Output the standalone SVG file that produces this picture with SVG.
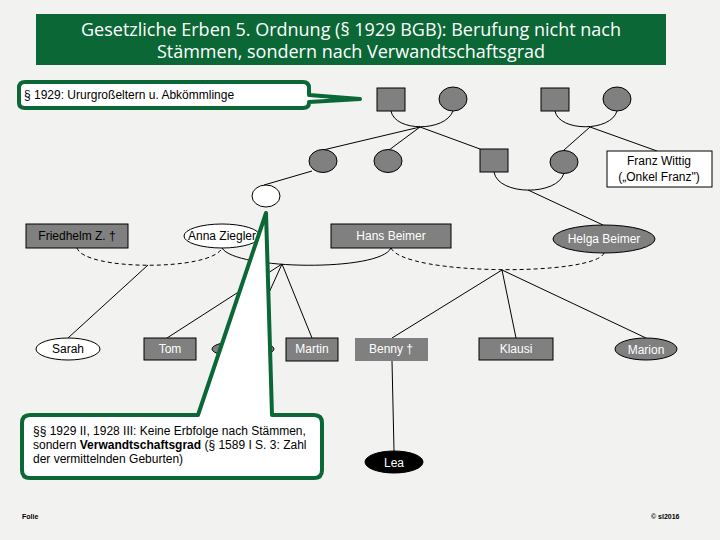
<svg xmlns="http://www.w3.org/2000/svg" width="720" height="540" viewBox="0 0 720 540">
<style>
  .bg{fill:#f2f2f0}
  .gr{fill:#808080;stroke:#000;stroke-width:1}
  .grn{fill:#808080}
  .wh{fill:#fff;stroke:#000;stroke-width:1}
  .blk{fill:#000;stroke:#000;stroke-width:1}
  .ln{fill:none;stroke:#000;stroke-width:1}
  .dash{fill:none;stroke:#000;stroke-width:1;stroke-dasharray:4,3}
  .callout{fill:#fff;stroke:#0b6836;stroke-width:4;stroke-linejoin:round}
  text{font-family:"Liberation Sans",Arial,sans-serif;font-size:12px}
  .lw{fill:#fff;text-anchor:middle}
  .lb{fill:#000;text-anchor:middle}
  .title{font-family:"Open Sans","Noto Sans",sans-serif;font-size:18px;fill:#fff;text-anchor:middle}
  .foot{font-size:7px;font-weight:bold;fill:#000}
</style>
<rect class="bg" x="0" y="0" width="720" height="540"/>

<g id="title">
  <rect x="36" y="14" width="630" height="51" fill="#0b6836"/>
  <text class="title" x="351" y="36">Gesetzliche Erben 5. Ordnung (§ 1929 BGB): Berufung nicht nach</text>
  <text class="title" x="351" y="58">Stämmen, sondern nach Verwandtschaftsgrad</text>
</g>

<g id="connectors">
  <path class="ln" d="M391,111 C395,132 445,132 453,111"/>
  <path class="ln" d="M420,127 L323,150 M420,127 L389,150 M420,127 L480,149"/>
  <path class="ln" d="M555,111 C559,132 611,132 617,111"/>
  <path class="ln" d="M590,127 L564,150 M590,127 L657,151"/>
  <path class="ln" d="M494,172 C498,196 558,196 564,173"/>
  <path class="ln" d="M528,190 L603,225"/>
  <path class="ln" d="M312,171 L264,185"/>
  <path class="dash" d="M77,248 C85,271 212,271 222,248"/>
  <path class="ln" d="M222,248 C235,270 380,272 391,248"/>
  <path class="dash" d="M391,248 C405,276 595,276 604,253"/>
  <path class="ln" d="M148,265 L68,338"/>
  <path class="ln" d="M282,264 L167,338 M282,264 L247,341 M282,264 L312,338"/>
  <path class="ln" d="M502,270 L392,338 M502,270 L516,338 M502,270 L646,338"/>
  <path class="ln" d="M392,361 L394,451"/>
</g>

<g id="gg1"><rect class="gr" x="377" y="88" width="28" height="23"/></g>
<g id="gg2"><ellipse class="gr" cx="453" cy="99" rx="14" ry="12"/></g>
<g id="gg3"><rect class="gr" x="541" y="88" width="28" height="23"/></g>
<g id="gg4"><ellipse class="gr" cx="617" cy="99" rx="14" ry="12"/></g>

<g id="g1"><ellipse class="gr" cx="323" cy="161" rx="14" ry="11.5"/></g>
<g id="g2"><ellipse class="gr" cx="388" cy="161" rx="14" ry="11.5"/></g>
<g id="g3"><rect class="gr" x="480" y="149" width="28" height="23"/></g>
<g id="g4"><ellipse class="gr" cx="564" cy="162" rx="14" ry="11.5"/></g>
<g id="franz">
  <rect class="wh" x="607" y="151" width="105" height="36"/>
  <text class="lb" x="659" y="165">Franz Wittig</text>
  <text class="lb" x="659" y="181">(„Onkel Franz")</text>
</g>

<g id="whitecircle"><ellipse class="wh" cx="266" cy="196" rx="14" ry="11"/></g>

<g id="friedhelm">
  <rect class="gr" x="26" y="224" width="102" height="24"/>
  <text class="lb" x="77" y="240">Friedhelm Z. †</text>
</g>
<g id="anna">
  <ellipse class="wh" cx="222" cy="236" rx="38" ry="12"/>
  <text class="lb" x="222" y="240">Anna Ziegler</text>
</g>
<g id="hans">
  <rect class="gr" x="331" y="224" width="120" height="24"/>
  <text class="lw" x="391" y="240">Hans Beimer</text>
</g>
<g id="helga">
  <ellipse class="gr" cx="604" cy="239" rx="51" ry="14"/>
  <text class="lw" x="604" y="243">Helga Beimer</text>
</g>

<g id="sarah">
  <ellipse class="wh" cx="68" cy="349" rx="32" ry="11"/>
  <text class="lb" x="68" y="353">Sarah</text>
</g>
<g id="tom">
  <rect class="gr" x="144" y="338" width="52" height="22"/>
  <text class="lw" x="170" y="353">Tom</text>
</g>
<g id="hidden"><ellipse class="gr" cx="243" cy="349" rx="31" ry="8"/></g>
<g id="martin">
  <rect class="gr" x="286" y="338" width="52" height="23"/>
  <text class="lw" x="312" y="353">Martin</text>
</g>
<g id="benny">
  <rect class="grn" x="355" y="338" width="73" height="23"/>
  <text class="lw" x="391" y="353">Benny †</text>
</g>
<g id="klausi">
  <rect class="gr" x="479" y="338" width="74" height="22"/>
  <text class="lw" x="516" y="353">Klausi</text>
</g>
<g id="marion">
  <ellipse class="gr" cx="646" cy="349" rx="31" ry="11"/>
  <text class="lw" x="646" y="354">Marion</text>
</g>
<g id="lea">
  <ellipse class="blk" cx="394" cy="462" rx="29" ry="11"/>
  <text class="lw" x="394" y="467">Lea</text>
</g>

<g id="callout1">
  <path class="callout" stroke-width="3.5" d="M25,82 H303 Q309,82 309,88 V95 L360,99 L309,102 V103 Q309,108 303,108 H25 Q19,108 19,103 V88 Q19,82 25,82 Z"/>
  <text x="24" y="99" fill="#000">§ 1929: Ururgroßeltern u. Abkömmlinge</text>
</g>

<g id="callout2">
  <path class="callout" d="M30,415 H198 L266,213 L272,415 H314 Q322,415 322,423 V470 Q322,478 314,478 H30 Q22,478 22,470 V423 Q22,415 30,415 Z"/>
  <text x="33" y="435" fill="#000">§§ 1929 II, 1928 III: Keine Erbfolge nach Stämmen,</text>
  <text x="33" y="449" fill="#000">sondern <tspan font-weight="bold">Verwandtschaftsgrad</tspan> (§ 1589 I S. 3: Zahl</text>
  <text x="33" y="463" fill="#000">der vermittelnden Geburten)</text>
</g>

<g id="footer">
  <text class="foot" x="22" y="519">Folie</text>
  <text class="foot" x="651" y="519">© sl2016</text>
</g>
</svg>
